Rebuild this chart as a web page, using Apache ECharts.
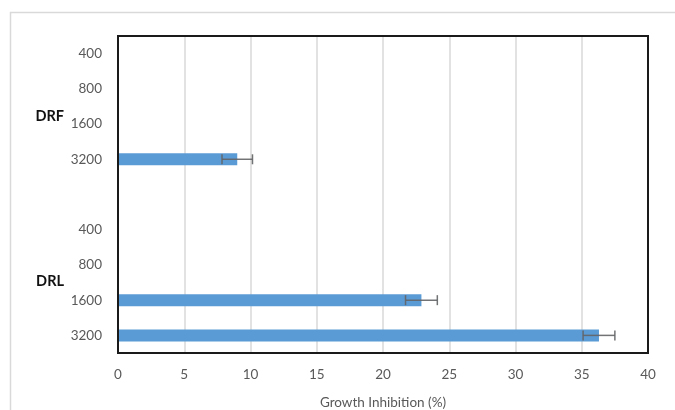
<!DOCTYPE html>
<html>
<head>
<meta charset="utf-8">
<script src="https://cdn.jsdelivr.net/npm/echarts@6/dist/echarts.min.js"></script>
<style>
  html, body { margin: 0; padding: 0; background: #fff; }
  #chart { width: 675px; height: 410px; }
</style>
</head>
<body>
<div id="chart"></div>
<script>
// Extract groups and dose levels (mg/L)
const groups = ['DRF', 'DRL'];
const doses = ['400', '800', '1600', '3200'];

// Mean growth inhibition (%) and standard error per dose, per extract
const drfMean = [null, null, null, 9.0];
const drfErr = [null, null, null, 1.15];
const drlMean = [null, null, 22.9, 36.3];
const drlErr = [null, null, 1.2, 1.2];

// X axis ticks
const xTicks = [0, 5, 10, 15, 20, 25, 30, 35, 40];

// Build the category list: both dose blocks separated by an empty row
const categories = doses.concat([''], doses);
const means = drfMean.concat([null], drlMean);
const errs = drfErr.concat([null], drlErr);
const errData = [];
means.forEach((m, i) => {
  if (m != null && errs[i] != null) errData.push([m - errs[i], m + errs[i], i]);
});

const FONT = 'Lato, "Open Sans", sans-serif';
const W = 675, H = 410;
const G = { left: 118, right: 27, top: 36, bottom: 57 };
const chart = echarts.init(document.getElementById('chart'));

chart.setOption({
  animation: false,
  backgroundColor: '#fff',
  textStyle: { fontFamily: FONT },
  grid: {
    left: G.left, right: G.right, top: G.top, bottom: G.bottom,
    containLabel: false,
    outerBoundsMode: 'none'
  },
  xAxis: {
    type: 'value',
    min: xTicks[0],
    max: xTicks[xTicks.length - 1],
    interval: xTicks[1] - xTicks[0],
    axisLine: { show: false },
    axisTick: { show: false },
    splitLine: { lineStyle: { color: '#d9d9d9', width: 1.5 } },
    axisLabel: { color: '#595959', fontSize: 13.5, margin: 15, fontFamily: FONT },
    name: 'Growth Inhibition (%)',
    nameLocation: 'middle',
    nameGap: 43,
    nameTextStyle: { color: '#595959', fontSize: 13.5, fontFamily: FONT }
  },
  yAxis: {
    type: 'category',
    data: categories,
    inverse: true,
    axisLine: { show: false },
    axisTick: { show: false },
    splitLine: { show: false },
    axisLabel: { color: '#595959', fontSize: 13.5, margin: 16, fontFamily: FONT }
  },
  series: [
    {
      type: 'bar',
      data: means,
      barWidth: 12,
      itemStyle: { color: '#5b9bd5' }
    },
    {
      type: 'custom',
      data: errData,
      encode: { x: [0, 1], y: 2 },
      z: 5,
      renderItem: function (params, api) {
        const lo = api.coord([api.value(0), api.value(2)]);
        const hi = api.coord([api.value(1), api.value(2)]);
        const h = 5;
        const style = { stroke: '#636466', lineWidth: 1.5, opacity: 0.9 };
        return {
          type: 'group',
          children: [
            { type: 'line', shape: { x1: lo[0], y1: lo[1], x2: hi[0], y2: hi[1] }, style: style },
            { type: 'line', shape: { x1: lo[0], y1: lo[1] - h, x2: lo[0], y2: lo[1] + h }, style: style },
            { type: 'line', shape: { x1: hi[0], y1: hi[1] - h, x2: hi[0], y2: hi[1] + h }, style: style }
          ]
        };
      }
    }
  ]
});

// Group labels placed beside each dose block, between its 800 and 1600 rows
const nudges = [10, -1];
const groupText = groups.map((g, gi) => {
  const base = gi * (doses.length + 1);
  const y1 = chart.convertToPixel({ yAxisIndex: 0 }, base + 1);
  const y2 = chart.convertToPixel({ yAxisIndex: 0 }, base + 2);
  return {
    type: 'text',
    x: 64,
    y: (y1 + y2) / 2 + nudges[gi],
    style: {
      text: g, fill: '#111', font: 'bold 14.5px ' + FONT,
      align: 'right', verticalAlign: 'middle'
    },
    z: 10
  };
});

chart.setOption({
  graphic: [
    {
      // outer chart-area frame
      type: 'polyline',
      shape: { points: [[10.5, H], [10.5, 12.5], [W, 12.5]] },
      style: { stroke: '#d9d9d9', lineWidth: 1.5, fill: null },
      silent: true
    },
    {
      // plot-area frame
      type: 'rect',
      shape: { x: G.left, y: G.top, width: W - G.left - G.right, height: H - G.top - G.bottom },
      style: { stroke: '#1a1a1a', lineWidth: 2, fill: null },
      silent: true,
      z: 20
    }
  ].concat(groupText)
});
</script>
</body>
</html>
